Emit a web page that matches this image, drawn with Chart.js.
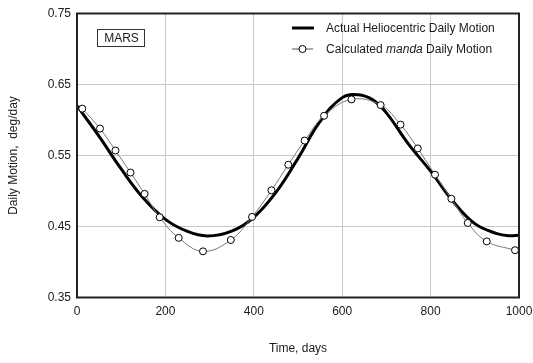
<!DOCTYPE html>
<html>
<head>
<meta charset="utf-8">
<script src="https://cdn.jsdelivr.net/npm/chart.js@4.4.0/dist/chart.umd.min.js"></script>
<style>
  html, body { margin: 0; padding: 0; background: #fff; }
  #wrap { width: 533px; height: 363px; }
</style>
</head>
<body>
<div id="wrap"><canvas id="chart" width="533" height="363"></canvas></div>
<script>
  // heliocentric curve
  const actualDays = [0, 50, 100, 150, 200, 250, 295, 350, 400, 450, 500, 550, 600, 636, 670, 700, 750, 800, 850, 900, 950, 978, 1000];
  const actualVals = [0.620, 0.577, 0.531, 0.490, 0.460, 0.443, 0.4367, 0.4435, 0.463, 0.498, 0.546, 0.598, 0.6315, 0.6355, 0.628, 0.610, 0.566, 0.528, 0.486, 0.454, 0.440, 0.437, 0.4377];

  // manda points (circles)
  const mandaDays = [12, 52, 87, 121, 153, 187, 230, 285, 348, 396, 440, 478, 515, 559, 621, 687, 732, 771, 810, 847, 884, 927, 991];
  const mandaVals = [0.616, 0.588, 0.557, 0.526, 0.496, 0.463, 0.434, 0.415, 0.431, 0.4635, 0.501, 0.537, 0.571, 0.606, 0.629, 0.621, 0.5935, 0.560, 0.523, 0.489, 0.455, 0.429, 0.4166];

  const xTicks = [0, 200, 400, 600, 800, 1000];
  const yTicks = [0.35, 0.45, 0.55, 0.65, 0.75];

  const FONT = 'Liberation Sans, Arial, sans-serif';
  const INK = '#1a1a1a';

  function toPoints(xs, ys) {
    return xs.map((x, i) => ({ x, y: ys[i] }));
  }

  const decorations = {
    id: 'decorations',
    afterDraw(chart) {
      const { ctx, chartArea: a } = chart;
      ctx.save();

      // frame
      ctx.strokeStyle = '#222';
      ctx.lineWidth = 2;
      ctx.strokeRect(a.left, a.top, a.right - a.left, a.bottom - a.top);

      // MARS box
      ctx.lineWidth = 1;
      ctx.strokeStyle = '#333';
      ctx.strokeRect(97.5, 29.5, 47, 17);
      ctx.fillStyle = INK;
      ctx.font = '12px ' + FONT;
      ctx.textBaseline = 'middle';
      ctx.textAlign = 'center';
      ctx.fillText('MARS', 121.5, 38.5);

      // legend
      ctx.textAlign = 'left';
      ctx.strokeStyle = '#000';
      ctx.lineWidth = 3;
      ctx.beginPath();
      ctx.moveTo(292, 28);
      ctx.lineTo(314, 28);
      ctx.stroke();
      ctx.fillText('Actual Heliocentric Daily Motion', 326, 28.5);

      ctx.strokeStyle = '#555';
      ctx.lineWidth = 1;
      ctx.beginPath();
      ctx.moveTo(292, 49);
      ctx.lineTo(313, 49);
      ctx.stroke();
      ctx.fillStyle = '#fff';
      ctx.strokeStyle = '#000';
      ctx.beginPath();
      ctx.arc(302.5, 49, 3.5, 0, Math.PI * 2);
      ctx.fill();
      ctx.stroke();

      ctx.fillStyle = INK;
      let x = 326;
      const parts = [['Calculated ', ''], ['manda', 'italic '], [' Daily Motion', '']];
      parts.forEach(([text, style]) => {
        ctx.font = style + '12px ' + FONT;
        ctx.fillText(text, x, 49.5);
        x += ctx.measureText(text).width;
      });

      ctx.restore();
    },
  };

  new Chart(document.getElementById('chart'), {
    type: 'line',
    data: {
      datasets: [
        {
          label: 'Calculated manda Daily Motion',
          data: toPoints(mandaDays, mandaVals),
          borderColor: '#777',
          borderWidth: 1,
          tension: 0.4,
          pointRadius: 3.5,
          pointBackgroundColor: '#fff',
          pointBorderColor: '#000',
          pointBorderWidth: 1,
          order: 0,
        },
        {
          label: 'Actual Heliocentric Daily Motion',
          data: toPoints(actualDays, actualVals),
          borderColor: '#000',
          borderWidth: 3,
          tension: 0.4,
          pointRadius: 0,
          order: 1,
        },
      ],
    },
    options: {
      responsive: false,
      animation: false,
      layout: { padding: { top: 13.5, right: 14, left: 0, bottom: 0 } },
      plugins: {
        legend: { display: false },
        tooltip: { enabled: false },
      },
      scales: {
        x: {
          type: 'linear',
          min: 0,
          max: 1000,
          afterBuildTicks: (s) => { s.ticks = xTicks.map((v) => ({ value: v })); },
          afterFit: (s) => {
            s.height = 65.5;
            s.paddingLeft = 0;
            s.paddingRight = 0;
          },
          grid: { color: '#c8c8c8', drawTicks: false },
          border: { display: false },
          ticks: {
            color: INK,
            font: { family: FONT, size: 12 },
            padding: 7,
            maxRotation: 0,
            callback: (v) => String(v),
          },
          title: {
            display: true,
            text: 'Time, days',
            color: INK,
            font: { family: FONT, size: 12 },
            padding: { top: 0, bottom: 7 },
          },
        },
        y: {
          min: 0.35,
          max: 0.75,
          afterBuildTicks: (s) => { s.ticks = yTicks.map((v) => ({ value: v })); },
          afterFit: (s) => {
            s.width = 77;
            s.paddingTop = 0;
            s.paddingBottom = 0;
          },
          grid: { color: '#c8c8c8', drawTicks: false },
          border: { display: false },
          ticks: {
            color: INK,
            font: { family: FONT, size: 12 },
            padding: 6,
            callback: (v) => v.toFixed(2),
          },
          title: {
            display: true,
            text: 'Daily Motion,  deg/day',
            color: INK,
            font: { family: FONT, size: 12 },
            padding: { top: 6, bottom: 0 },
          },
        },
      },
    },
    plugins: [decorations],
  });
</script>
</body>
</html>
